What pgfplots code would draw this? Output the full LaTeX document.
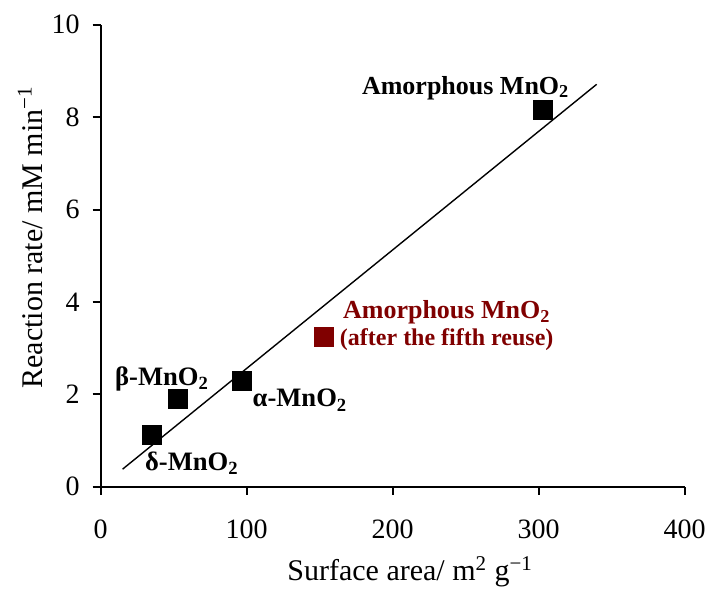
\documentclass[border=0pt]{standalone}
\usepackage{fontspec}
\setmainfont{Liberation Serif}
\usepackage{pgfplots}
\pgfplotsset{compat=1.18}
\definecolor{reuse}{RGB}{128,0,0}
\begin{document}
\begin{tikzpicture}
\begin{axis}[
  scale only axis,
  width=292pt, height=231pt,
  xmin=0, xmax=400, ymin=0, ymax=10,
  axis x line*=bottom, axis y line*=left,
  axis line style={line width=1pt},
  xtick={0,100,200,300,400}, ytick={0,2,4,6,8,10},
  tick align=outside,
  major tick length=4pt,
  tick style={line width=1pt, black},
  /pgf/number format/assume math mode=true,
  tick label style={font=\fontsize{14}{16}\selectfont},
  xticklabel style={yshift=-9pt},
  yticklabel style={xshift=-3pt},
  xlabel={Surface area/ m\textsuperscript{2} g\textsuperscript{−1}},
  ylabel={Reaction rate/ mM min\textsuperscript{−1}},
  label style={font=\fontsize{15}{18}\selectfont},
  xlabel style={at={(axis description cs:0.53,-0.184)}, anchor=center},
  ylabel style={at={(axis description cs:-0.121,0.54)}, anchor=center},
  clip=false,
]
\addplot[black, line width=0.7pt] coordinates {(15,0.38) (339.7,8.71)};
\addplot[only marks, mark=square*, mark size=4.75pt, black] coordinates {
  (35.3,1.12) (53.1,1.90) (96.9,2.30) (303,8.16)};
\addplot[only marks, mark=square*, mark size=4.75pt, reuse] coordinates {(153,3.24)};
\node[anchor=base, font=\bfseries\fontsize{13}{15}\selectfont] at (axis cs:250,8.50) {Amorphous MnO\textsubscript{2}};
\node[anchor=base, font=\bfseries\fontsize{13.3}{15}\selectfont] at (axis cs:42,2.19) {β-MnO\textsubscript{2}};
\node[anchor=base, font=\bfseries\fontsize{13.3}{15}\selectfont] at (axis cs:136.5,1.73) {α-MnO\textsubscript{2}};
\node[anchor=base, font=\bfseries\fontsize{13.3}{15}\selectfont] at (axis cs:62.5,0.36) {δ-MnO\textsubscript{2}};
\node[anchor=base, font=\bfseries\fontsize{13}{15}\selectfont, text=reuse] at (axis cs:237,3.64) {Amorphous MnO\textsubscript{2}};
\node[anchor=base, font=\bfseries\fontsize{12}{14}\selectfont, text=reuse] at (axis cs:237,3.06) {(after the fifth reuse)};
\end{axis}
\pgfresetboundingbox
\path[use as bounding box] ([shift={(-50.35pt,-52.15pt)}]current axis.south west) rectangle ++(356pt,295.5pt);
\end{tikzpicture}
\end{document}
